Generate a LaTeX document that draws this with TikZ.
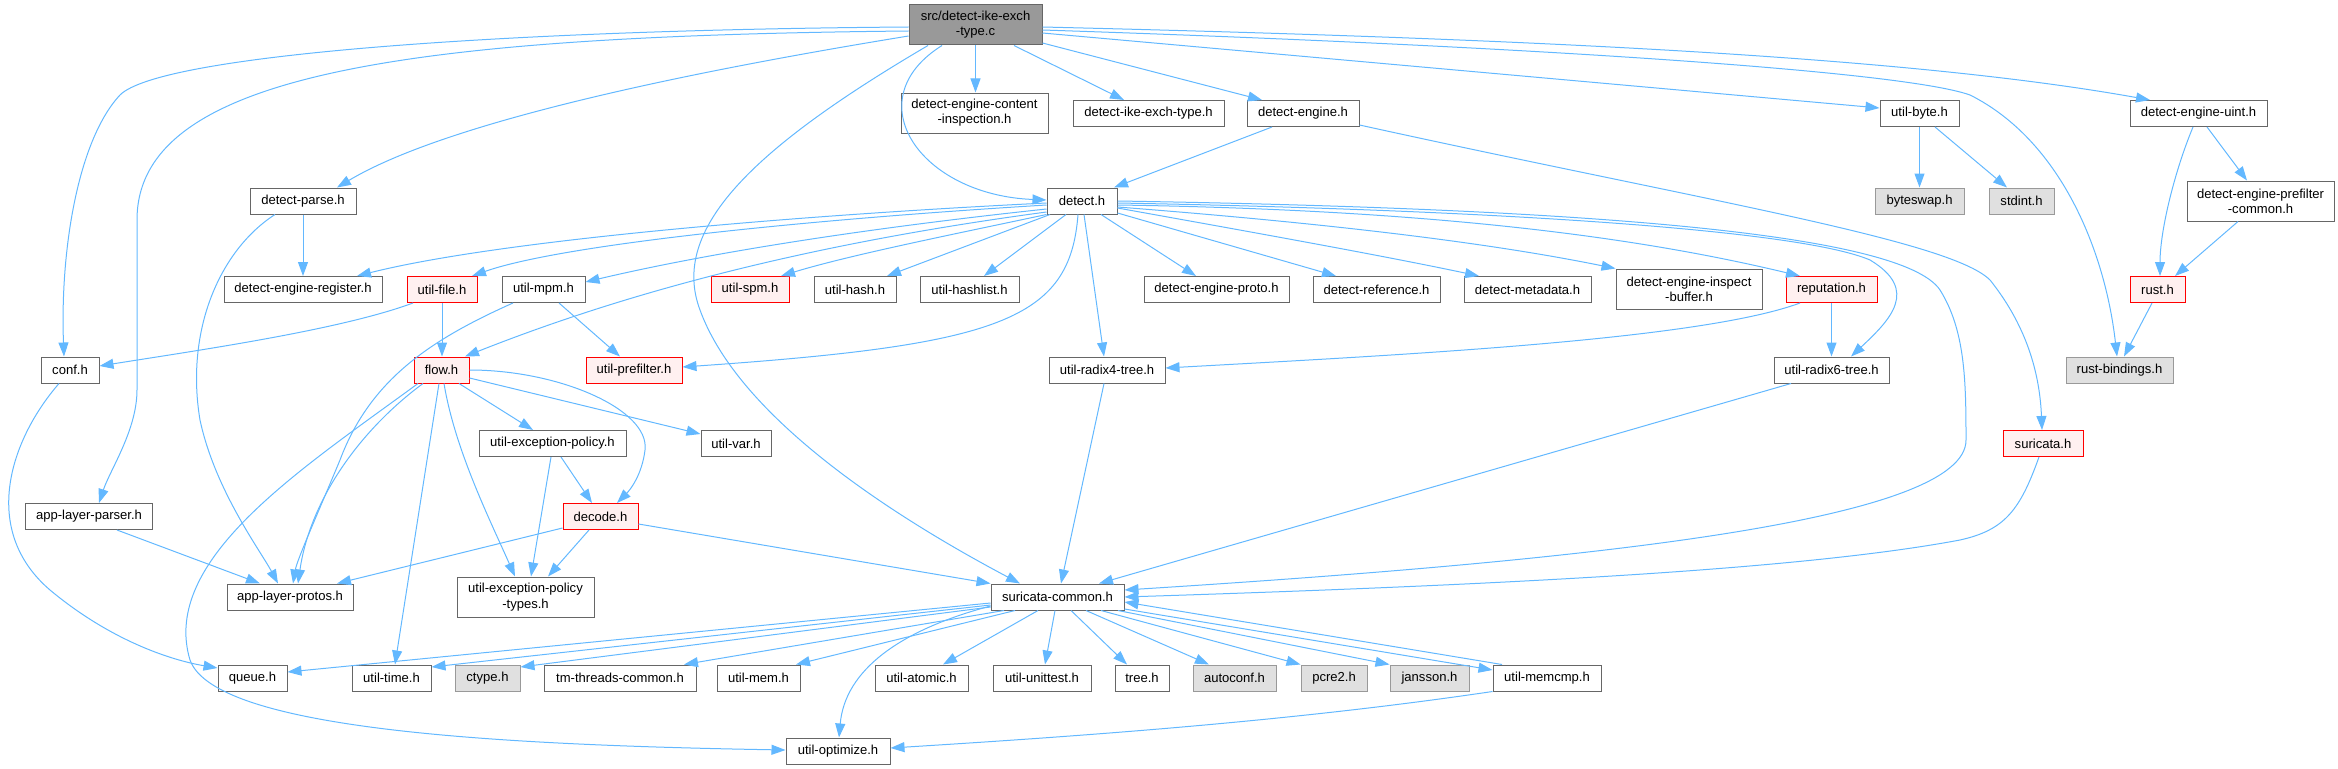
\documentclass[tikz,border=0pt]{standalone}
\usepackage{fontspec}
\setmainfont{Liberation Sans}
\usetikzlibrary{arrows.meta,calc}
\definecolor{edgec}{HTML}{63B8FF}
\definecolor{bordc}{HTML}{666666}
\definecolor{redb}{HTML}{FF0000}
\definecolor{redf}{HTML}{FFF0F0}
\definecolor{grayb}{HTML}{999999}
\definecolor{grayf}{HTML}{E0E0E0}
\definecolor{topf}{HTML}{999999}
\tikzset{
  nd/.style={draw=bordc, fill=white, line width=1bp, inner sep=0pt, minimum height=26bp,
    align=center, font=\fontsize{13.1}{15.3}\selectfont, text=black},
  ndred/.style={nd, draw=redb, fill=redf},
  ndgray/.style={nd, draw=grayb, fill=grayf},
  ndtop/.style={nd, fill=topf},
  two/.style={minimum height=40bp},
  wd/.style={minimum width=#1bp},
  dep/.style={draw=edgec, line width=1bp, -{Triangle[length=14bp,width=10bp]}}
}
\begin{document}
\begin{tikzpicture}[x=1bp,y=-1bp]
\useasboundingbox (0,0) rectangle (2338,769);
% nodes
\node[ndtop, two, wd=133] (src) at (975.5,25) {src/detect-ike-exch\\-type.c};
\node[nd, two, wd=147] (deci) at (974.5,113) {detect-engine-content\\-inspection.h};
\node[nd, wd=151] (dike) at (1148.5,113.5) {detect-ike-exch-type.h};
\node[nd, wd=112] (deng) at (1303,113.5) {detect-engine.h};
\node[nd, wd=79] (ubyte) at (1919.5,113.5) {util-byte.h};
\node[nd, wd=137] (duint) at (2198.5,113.5) {detect-engine-uint.h};
\node[nd, wd=106] (dparse) at (303,201) {detect-parse.h};
\node[nd, wd=70] (detect) at (1082,201) {detect.h};
\node[ndgray, wd=89] (bswap) at (1919.5,201) {byteswap.h};
\node[ndgray, wd=65] (stdint) at (2021.5,201) {stdint.h};
\node[nd, two, wd=147] (dpfc) at (2260.5,201) {detect-engine-prefilter\\-common.h};
\node[nd, wd=158] (dereg) at (303,289.5) {detect-engine-register.h};
\node[ndred, wd=70] (ufile) at (442,289.5) {util-file.h};
\node[nd, wd=83] (umpm) at (543.5,289.5) {util-mpm.h};
\node[ndred, wd=78] (uspm) at (750,289.5) {util-spm.h};
\node[nd, wd=82] (uhash) at (855,289.5) {util-hash.h};
\node[nd, wd=99] (uhashl) at (969.5,289.5) {util-hashlist.h};
\node[nd, wd=145] (deproto) at (1216.5,289.5) {detect-engine-proto.h};
\node[nd, wd=127] (dref) at (1376.5,289.5) {detect-reference.h};
\node[nd, wd=127] (dmeta) at (1527.5,289.5) {detect-metadata.h};
\node[nd, two, wd=146] (deib) at (1689,289) {detect-engine-inspect\\-buffer.h};
\node[ndred, wd=91] (rep) at (1831.5,289.5) {reputation.h};
\node[ndred, wd=55] (rust) at (2157.5,289.5) {rust.h};
\node[nd, wd=58] (conf) at (70,370) {conf.h};
\node[ndred, wd=55] (flow) at (441.5,370) {flow.h};
\node[ndred, wd=96] (upref) at (634,370) {util-prefilter.h};
\node[nd, wd=116] (ur4) at (1107,370) {util-radix4-tree.h};
\node[nd, wd=115] (ur6) at (1831.5,370) {util-radix6-tree.h};
\node[ndgray, wd=107] (rustb) at (2119.5,370) {rust-bindings.h};
\node[nd, wd=147] (uexp) at (552.5,443.5) {util-exception-policy.h};
\node[nd, wd=70] (uvar) at (736,443.5) {util-var.h};
\node[ndred, wd=80] (suri) at (2043,443.5) {suricata.h};
\node[nd, wd=126] (alparser) at (89,516.5) {app-layer-parser.h};
\node[ndred, wd=75] (decode) at (600.5,516.5) {decode.h};
\node[nd, wd=126] (alprotos) at (290,597) {app-layer-protos.h};
\node[nd, two, wd=137] (uexpt) at (525.5,597) {util-exception-policy\\-types.h};
\node[nd, wd=133] (scommon) at (1057.5,597) {suricata-common.h};
\node[nd, wd=69] (queue) at (252.5,678) {queue.h};
\node[nd, wd=79] (utime) at (391.5,678) {util-time.h};
\node[ndgray, wd=65] (ctype) at (487.5,678) {ctype.h};
\node[nd, wd=152] (tmtc) at (620,678) {tm-threads-common.h};
\node[nd, wd=83] (umem) at (758.5,678) {util-mem.h};
\node[nd, wd=93] (uatomic) at (921.5,678) {util-atomic.h};
\node[nd, wd=98] (uunit) at (1042,678) {util-unittest.h};
\node[nd, wd=54] (tree) at (1142,678) {tree.h};
\node[ndgray, wd=83] (autoconf) at (1234.5,678) {autoconf.h};
\node[ndgray, wd=66] (pcre2) at (1334,678) {pcre2.h};
\node[ndgray, wd=79] (jansson) at (1429.5,678) {jansson.h};
\node[nd, wd=108] (umemcmp) at (1547,678) {util-memcmp.h};
\node[nd, wd=104] (uopt) at (838,751) {util-optimize.h};
% edges from src
\draw[dep] (src.west |- 0,27) .. controls (500,30) and (160,55) .. (120,95) .. controls (78,140) and (60,250) .. (conf.north -| 64,0);
\draw[dep] (src.west |- 0,31) .. controls (400,36) and (137,75) .. (137,220) -- (137,390) .. controls (137,430) and (110,470) .. (alparser.north -| 99,0);
\draw[dep] (src.west |- 0,36) .. controls (700,70) and (450,120) .. (dparse.north -| 337,0);
\draw[dep] (src.south -| 942,0) .. controls (855,100) and (920,195) .. (detect.west |- 0,200);
\draw[dep] (src.south -| 928,0) .. controls (750,150) and (670,230) .. (700,310) .. controls (740,420) and (900,520) .. (scommon.north -| 1020,0);
\draw[dep] (src.south) -- (src.south |- deci.north);
\draw[dep] (src.south -| 1014,0) -- (dike.north -| 1124,0);
\draw[dep] (src.east |- 0,43) -- (deng.north -| 1262,0);
\draw[dep] (src.east |- 0,33) -- (ubyte.west |- 0,108);
\draw[dep] (src.east |- 0,30) .. controls (1500,45) and (1900,70) .. (1970,95) .. controls (2060,140) and (2105,250) .. (rustb.north -| 2117,0);
\draw[dep] (src.east |- 0,27) .. controls (1500,38) and (1900,55) .. (duint.north -| 2150,0);
% detect-engine, util-byte, uint
\draw[dep] (deng.south -| 1272,0) -- (detect.north -| 1114,0);
\draw[dep] (deng.east |- 0,125) .. controls (1700,200) and (1950,240) .. (1990,280) .. controls (2030,330) and (2040,380) .. (suri.north -| 2042,0);
\draw[dep] (ubyte.south) -- (bswap.north);
\draw[dep] (ubyte.south -| 1935,0) -- (stdint.north -| 2007,0);
\draw[dep] (duint.south -| 2193,0) .. controls (2175,170) and (2160,230) .. (rust.north -| 2160,0);
\draw[dep] (duint.south -| 2207,0) -- (dpfc.north -| 2247,0);
\draw[dep] (dpfc.south -| 2238,0) -- (rust.north -| 2175,0);
\draw[dep] (rust.south -| 2152,0) -- (rustb.north -| 2124,0);
% detect-parse
\draw[dep] (dparse.south) -- (dereg.north);
\draw[dep] (dparse.south -| 275,0) .. controls (220,250) and (185,330) .. (200,420) .. controls (215,490) and (260,550) .. (alprotos.north -| 278,0);
% detect.h
\draw[dep] (detect.west |- 0,203) .. controls (800,215) and (500,240) .. (dereg.north -| 357,0);
\draw[dep] (detect.west |- 0,205) .. controls (800,220) and (560,245) .. (ufile.north -| 472,0);
\draw[dep] (detect.west |- 0,209) .. controls (850,230) and (700,255) .. (umpm.east |- 0,282);
\draw[dep] (detect.west |- 0,212) .. controls (800,245) and (620,295) .. (flow.north -| 465,0);
\draw[dep] (detect.south west) .. controls (950,235) and (850,255) .. (uspm.north -| 781,0);
\draw[dep] (detect.south -| 1050,0) -- (uhash.north -| 887,0);
\draw[dep] (detect.south -| 1066,0) -- (uhashl.north -| 984,0);
\draw[dep] (detect.south -| 1101,0) -- (deproto.north -| 1196,0);
\draw[dep] (detect.east |- 0,213) -- (dref.north -| 1336,0);
\draw[dep] (detect.east |- 0,208) .. controls (1240,230) and (1380,255) .. (dmeta.north -| 1479,0);
\draw[dep] (detect.east |- 0,207) .. controls (1350,225) and (1500,245) .. (deib.north west);
\draw[dep] (detect.east |- 0,205) .. controls (1450,210) and (1650,240) .. (rep.north -| 1800,0);
\draw[dep] (detect.east |- 0,203) .. controls (1500,210) and (1800,230) .. (1870,260) .. controls (1920,290) and (1890,320) .. (ur6.north -| 1851,0);
\draw[dep] (detect.east |- 0,201) .. controls (1550,208) and (1900,230) .. (1940,290) .. controls (1965,330) and (1966,380) .. (1966,440) .. controls (1966,520) and (1600,560) .. (scommon.east |- 0,590);
\draw[dep] (detect.south -| 1084,0) -- (ur4.north -| 1104,0);
\draw[dep] (detect.south -| 1078,0) .. controls (1070,320) and (1000,345) .. (upref.east |- 0,367);
% util-file, util-mpm
\draw[dep] (ufile.south -| 413,0) .. controls (340,330) and (200,350) .. (conf.east |- 0,366);
\draw[dep] (ufile.south) -- (ufile.south |- flow.north);
\draw[dep] (umpm.south -| 559,0) -- (upref.north -| 620,0);
\draw[dep] (umpm.south -| 513,0) .. controls (430,340) and (370,380) .. (340,460) .. controls (315,520) and (297,560) .. (alprotos.north -| 293,0);
% flow.h
\draw[dep] (flow.south -| 423,0) .. controls (360,430) and (310,500) .. (alprotos.north -| 298,0);
\draw[dep] (flow.south -| 418,0) .. controls (300,470) and (160,560) .. (190,660) .. controls (215,730) and (500,745) .. (uopt.west |- 0,750);
\draw[dep] (flow.south -| 439,0) -- (utime.north -| 395,0);
\draw[dep] (flow.south -| 444,0) .. controls (455,450) and (490,520) .. (uexpt.north -| 515,0);
\draw[dep] (flow.south -| 459,0) -- (uexp.north -| 533,0);
\draw[dep] (flow.east |- 0,378) -- (uvar.west |- 0,434);
\draw[dep] (flow.east |- 0,370) .. controls (560,370) and (650,410) .. (645,450) .. controls (642,475) and (630,490) .. (decode.north -| 617,0);
% exception policy, decode
\draw[dep] (uexp.south -| 561,0) -- (decode.north -| 592,0);
\draw[dep] (uexp.south -| 551,0) -- (uexpt.north -| 531,0);
\draw[dep] (decode.west |- 0,528) -- (alprotos.north -| 337,0);
\draw[dep] (decode.south -| 589,0) -- (uexpt.north -| 548,0);
\draw[dep] (decode.east |- 0,524) -- (scommon.north west);
\draw[dep] (alparser.south -| 117,0) -- (alprotos.north -| 260,0);
\draw[dep] (conf.south -| 59,0) .. controls (10,440) and (-20,530) .. (50,590) .. controls (110,640) and (170,660) .. (queue.west |- 0,668);
% radix, reputation, suricata
\draw[dep] (ur4.south -| 1104,0) -- (scommon.north -| 1061,0);
\draw[dep] (ur6.south -| 1791,0) -- (scommon.north -| 1099,0);
\draw[dep] (rep.south) -- (rep.south |- ur6.north);
\draw[dep] (rep.south -| 1800,0) .. controls (1700,340) and (1400,355) .. (ur4.east |- 0,368);
\draw[dep] (suri.south -| 2039,0) .. controls (2020,510) and (2005,530) .. (1960,540) .. controls (1800,570) and (1500,585) .. (scommon.east |- 0,597);
% suricata-common
\draw[dep] (scommon.west |- 0,603) -- (queue.east |- 0,672);
\draw[dep] (scommon.west |- 0,605) -- (utime.east |- 0,667);
\draw[dep] (scommon.west |- 0,607) -- (ctype.east |- 0,667);
\draw[dep] (scommon.south -| 1004,0) -- (tmtc.north -| 684,0);
\draw[dep] (scommon.south -| 1015,0) -- (umem.north -| 796,0);
\draw[dep] (scommon.south -| 1038,0) -- (uatomic.north -| 943,0);
\draw[dep] (scommon.south -| 1055,0) -- (uunit.north -| 1045,0);
\draw[dep] (scommon.south -| 1071,0) -- (tree.north -| 1127,0);
\draw[dep] (scommon.south -| 1086,0) -- (autoconf.north -| 1209,0);
\draw[dep] (scommon.south -| 1101,0) -- (pcre2.north west);
\draw[dep] (scommon.south -| 1118,0) -- (jansson.north west);
\draw[dep] (scommon.east |- 0,609) -- (umemcmp.west |- 0,670);
\draw[dep] (umemcmp.north -| 1502,0) -- (scommon.east |- 0,602);
\draw[dep] (scommon.west |- 0,606) .. controls (900,630) and (845,670) .. (uopt.north -| 839,0);
\draw[dep] (umemcmp.south west) .. controls (1300,720) and (1100,735) .. (uopt.east |- 0,748);
\end{tikzpicture}
\end{document}
